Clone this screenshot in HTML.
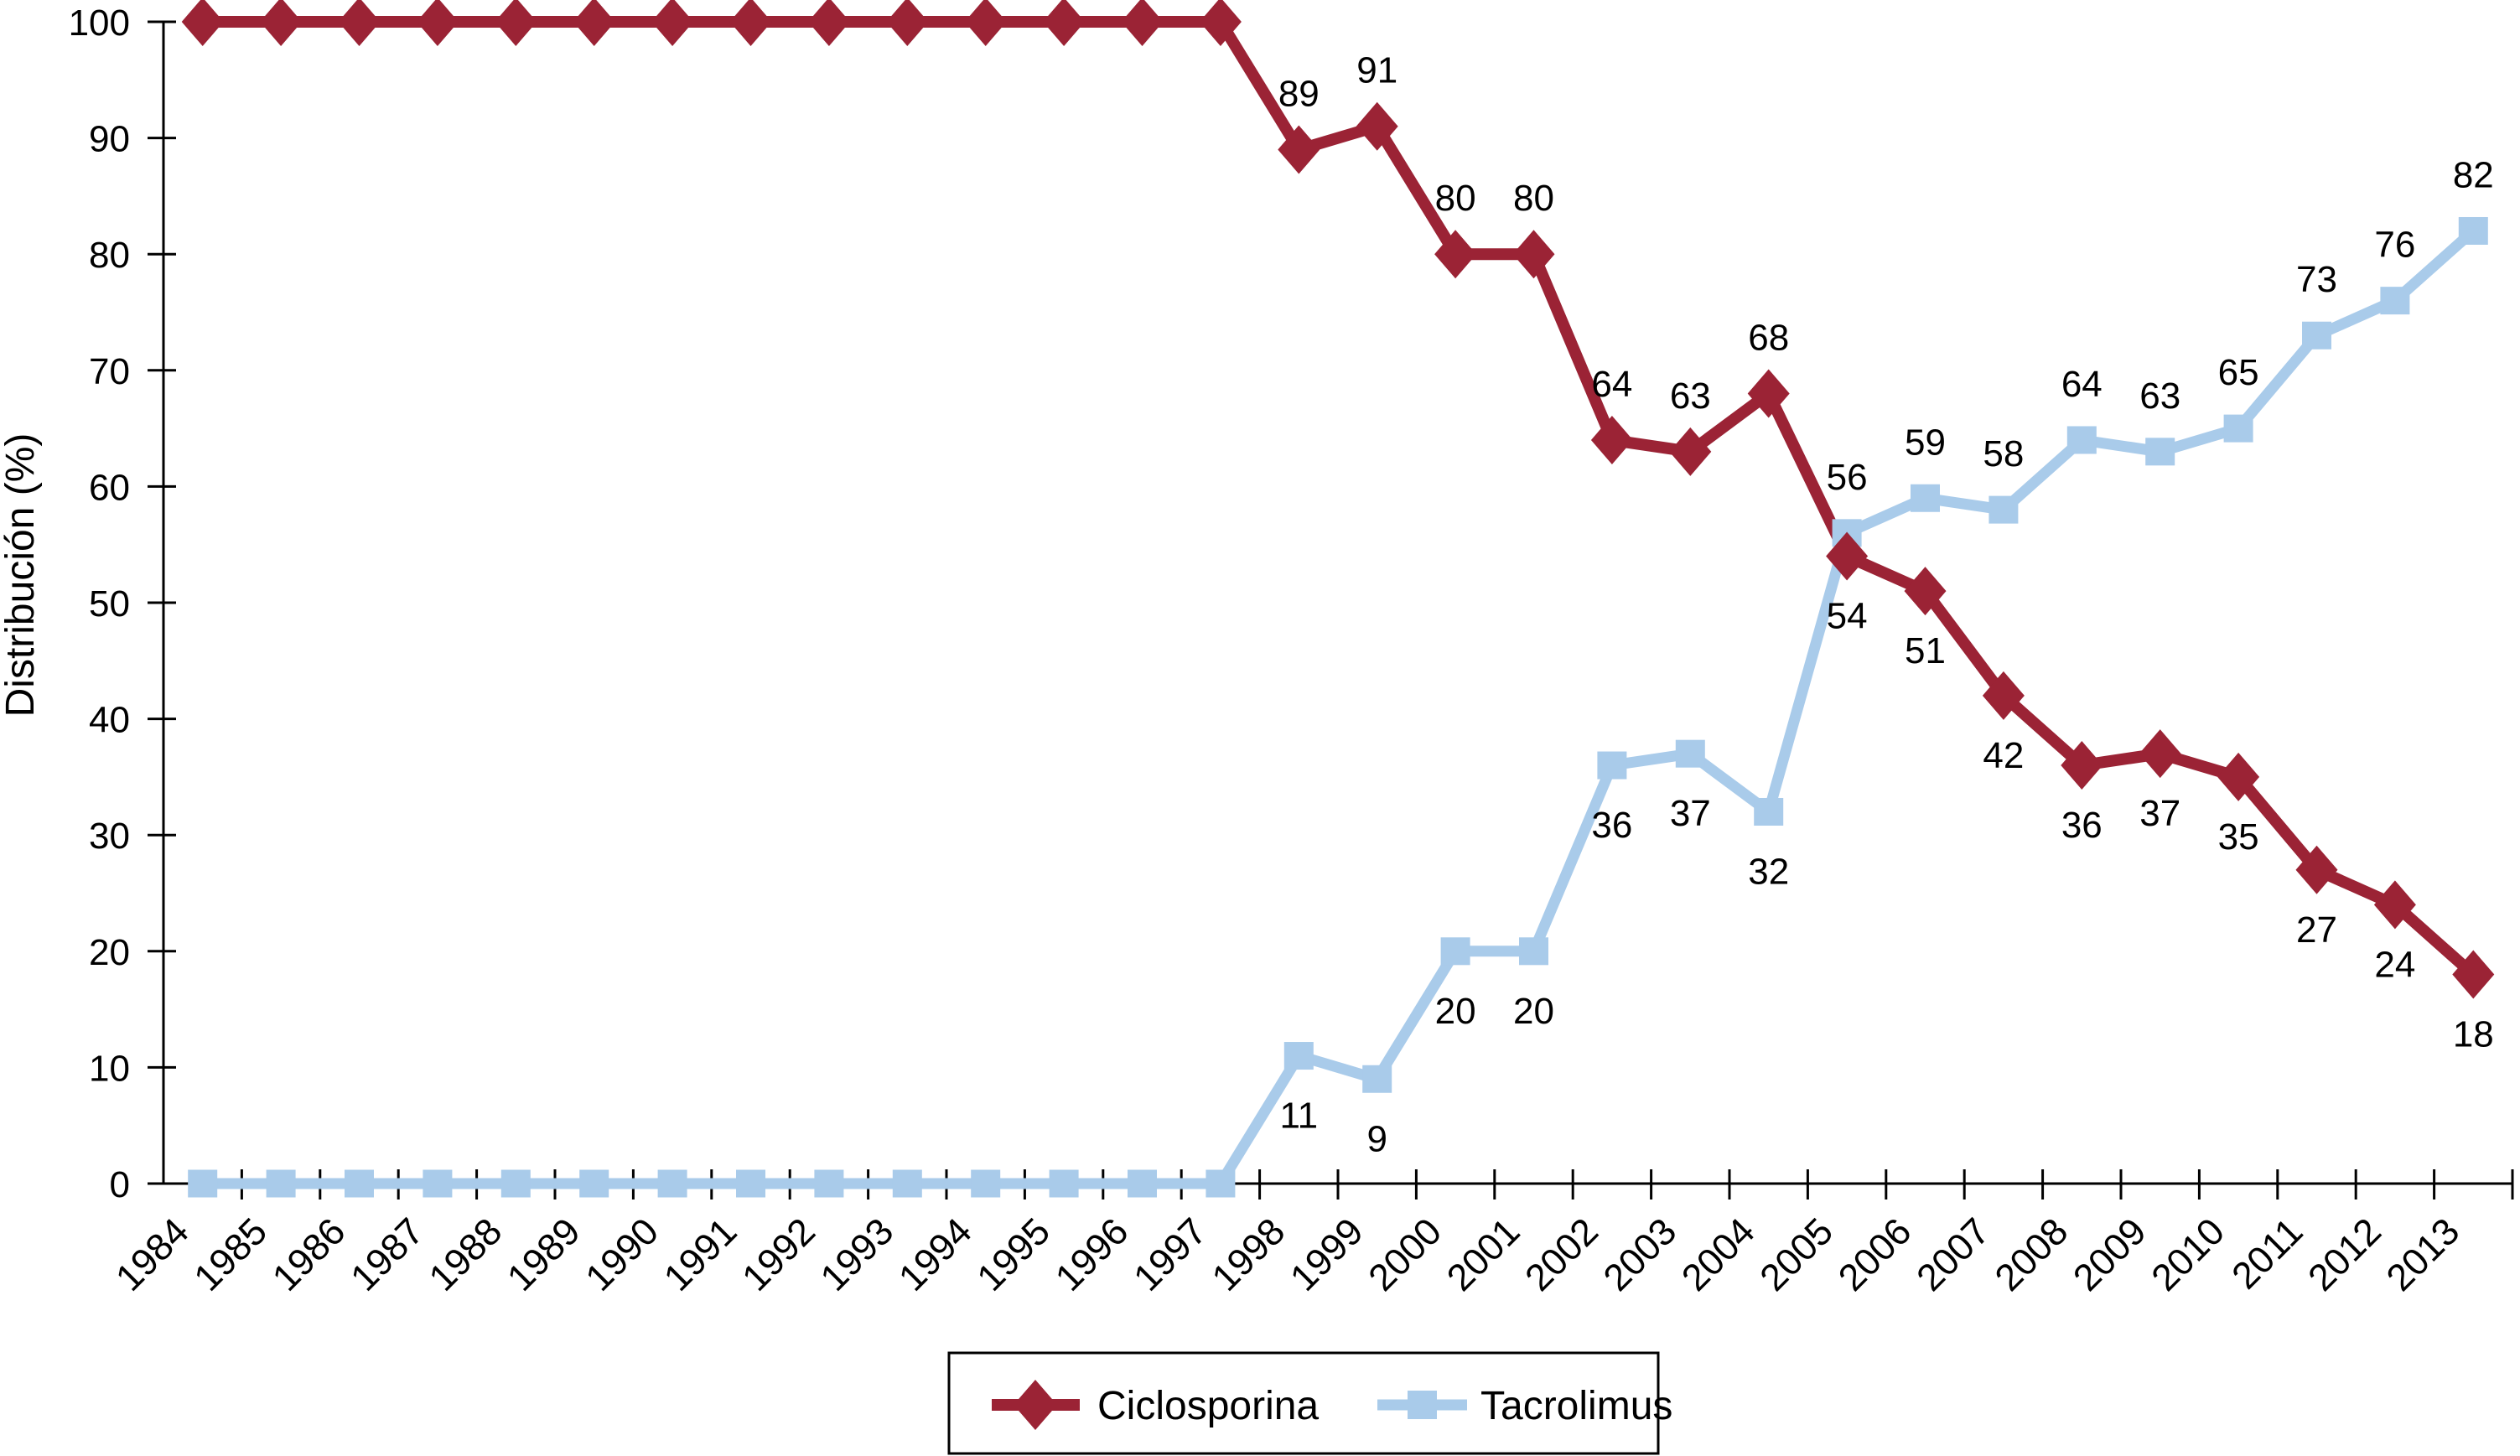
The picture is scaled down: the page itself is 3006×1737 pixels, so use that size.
<!DOCTYPE html>
<html><head><meta charset="utf-8"><style>
html,body{margin:0;padding:0;background:#fff;}
svg{display:block;font-family:"Liberation Sans",sans-serif;}
</style></head><body>
<svg id="chart" width="3006" height="1737" viewBox="0 0 3006 1737">
<g id="axes"></g>
<g id="series"></g>
<text x="0" y="0" transform="translate(40,686) rotate(-90)" text-anchor="middle" font-size="48">Distribución (%)</text>
<g>
<rect x="1132" y="1614" width="846" height="120" fill="#fff" stroke="#000" stroke-width="3"/>
<g>
<line x1="1183" y1="1676" x2="1288" y2="1676" stroke="#9b2335" stroke-width="14"/>
<polygon points="1235,1646 1261,1676 1235,1706 1209,1676" fill="#9b2335"/>
<text x="1309" y="1693" font-size="48">Ciclosporina</text>
</g>
<g>
<line x1="1643" y1="1676" x2="1750" y2="1676" stroke="#a9cbea" stroke-width="13"/>
<rect x="1679" y="1659" width="35" height="34" fill="#a9cbea"/>
<text x="1766" y="1693" font-size="48">Tacrolimus</text>
</g>
</g>
</svg>
<script>
const years = [1984,1985,1986,1987,1988,1989,1990,1991,1992,1993,1994,1995,1996,1997,1998,1999,2000,2001,2002,2003,2004,2005,2006,2007,2008,2009,2010,2011,2012,2013];
const ciclosporina = [100,100,100,100,100,100,100,100,100,100,100,100,100,100,89,91,80,80,64,63,68,54,51,42,36,37,35,27,24,18];
const tacrolimus = [0,0,0,0,0,0,0,0,0,0,0,0,0,0,11,9,20,20,36,37,32,56,59,58,64,63,65,73,76,82];
const yTicks = [0,10,20,30,40,50,60,70,80,90,100];
const labelFrom = 14;

const NS = "http://www.w3.org/2000/svg";
const X0 = 195, X1 = 2997, Y0 = 1412, Y100 = 26;
const cw = (X1 - X0) / years.length;
const xPos = i => X0 + cw * (i + 0.5);
const yPos = v => Y0 - (Y0 - Y100) * v / 100;
function mk(tag, attrs, parent){const e=document.createElementNS(NS,tag);for(const k in attrs)e.setAttribute(k,attrs[k]);parent.appendChild(e);return e;}
const axes=document.getElementById('axes'), series=document.getElementById('series');

const ya = mk('line',{x1:X0,y1:Y100,x2:X0,y2:Y0,stroke:'#000','stroke-width':3},axes);


const xa = mk('line',{x1:X0,y1:Y0,x2:X1,y2:Y0,stroke:'#000','stroke-width':3},axes);


yTicks.forEach(t=>{
  const y=yPos(t);
  const tk=mk('line',{x1:X0-19,y1:y,x2:X0+15,y2:y,stroke:'#000','stroke-width':3},axes);
  
  
  const tl=mk('text',{x:X0-40,y:y+16,'text-anchor':'end','font-size':44},axes);
  tl.textContent=t;
  
  
});
for(let i=1;i<=years.length;i++){
  const x=X0+cw*i;
  const tk=mk('line',{x1:x,y1:Y0-17,x2:x,y2:Y0+19,stroke:'#000','stroke-width':3},axes);
  
  
}
years.forEach((yr,i)=>{
  const x=xPos(i)-14, y=1472;
  const tl=mk('text',{x:x,y:y,'text-anchor':'end','font-size':45,transform:`rotate(-45 ${x} ${y})`},axes);
  tl.textContent=yr;
  
  
});

function path(vals){return vals.map((v,i)=>(i?'L':'M')+xPos(i).toFixed(1)+','+yPos(v).toFixed(1)).join(' ');}
const lt=mk('path',{d:path(tacrolimus),fill:'none',stroke:'#a9cbea','stroke-width':13},series);


const lc=mk('path',{d:path(ciclosporina),fill:'none',stroke:'#9b2335','stroke-width':14},series);



tacrolimus.forEach((v,i)=>{
  const x=xPos(i), y=yPos(v);
  const r=mk('rect',{x:x-17.5,y:y-16.5,width:35,height:33,fill:'#a9cbea'},series);
  
  
  if(i>=labelFrom){
    const above = v > ciclosporina[i];
    const t=mk('text',{x:x,y:above?y-52:y+86,'text-anchor':'middle','font-size':44},series);
    t.textContent=v;
    
    
  }
});
ciclosporina.forEach((v,i)=>{
  const x=xPos(i), y=yPos(v);
  const d=mk('polygon',{points:`${x},${y-29} ${x+25},${y} ${x},${y+29} ${x-25},${y}`,fill:'#9b2335'},series);
  
  
  if(i>=labelFrom){
    const above = v > tacrolimus[i];
    const t=mk('text',{x:x,y:above?y-52:y+86,'text-anchor':'middle','font-size':44},series);
    t.textContent=v;
    
    
  }
});
</script>
</body></html>
